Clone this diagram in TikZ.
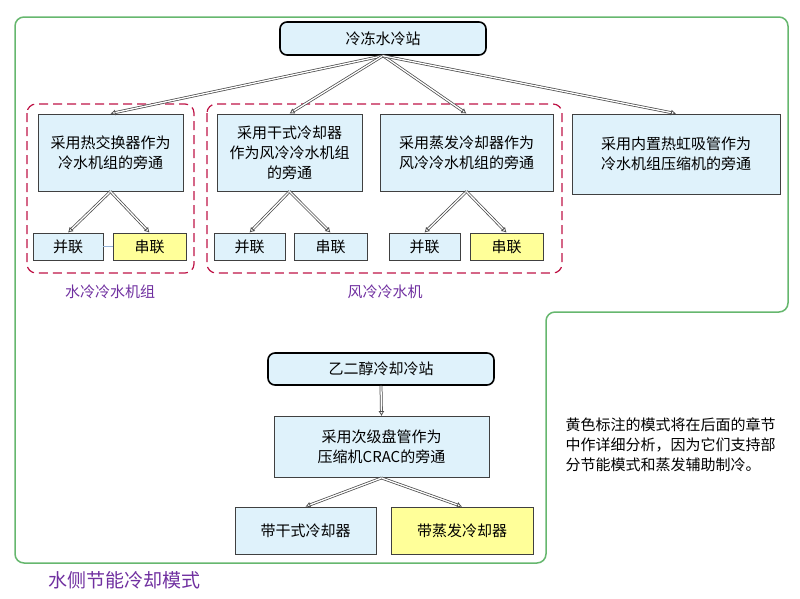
\documentclass[tikz,border=0pt]{standalone}
\usepackage{fontspec}
\setmainfont{Noto Sans CJK SC}
\usetikzlibrary{arrows.meta}

\definecolor{cajaazul}{RGB}{223,242,251}
\definecolor{cajaamarilla}{RGB}{255,255,153}
\definecolor{verdemarco}{RGB}{102,183,110}
\definecolor{rojogrupo}{RGB}{190,20,70}
\definecolor{morado}{RGB}{112,48,160}
\definecolor{bordecaja}{RGB}{64,64,64}
\definecolor{enlace}{RGB}{150,180,215}

\tikzset{
  estacion/.style={draw=black, line width=1.6pt, rounded corners=7pt, fill=cajaazul, inner sep=0pt},
  caja/.style={draw=bordecaja, line width=0.9pt, fill=cajaazul, align=center, inner sep=0pt},
  amarilla/.style={caja, fill=cajaamarilla},
  flecha/.style={draw=gray!60!black, line width=0.75pt, double=white, double distance=1.3pt,
    -{Latex[open,length=5pt,width=6pt]}},
  grupo/.style={draw=rojogrupo, line width=1.2pt, dash pattern=on 9pt off 5pt, rounded corners=9pt},
  etiqueta/.style={text=morado}
}

\begin{document}
\begin{tikzpicture}[x=1pt, y=-1pt, font=\fontsize{15}{20}\selectfont]
    \useasboundingbox (0,0) rectangle (800,598);

    % Marco verde
    \draw[verdemarco, line width=1.5pt, rounded corners=9pt]
        (15,17) -- (788,17) -- (788,312) -- (546,312) -- (546,563) -- (15,563) -- cycle;

    % Grupos discontinuos
    \draw[grupo] (27,104) rectangle (194,273);
    \draw[grupo] (207,104) rectangle (562,273);
    \node[etiqueta] (gagua) at (110,292) {水冷冷水机组};
    \node[etiqueta] (gaire) at (385,292) {风冷冷水机};

    % Estacion de agua helada
    \node[estacion, minimum width=206pt, minimum height=33pt] (estacion) at (383,38.5) {冷冻水冷站};

    % Modos de derivacion
    \node[caja, minimum width=145pt, minimum height=77pt] (intercambio) at (110.5,152.5) {采用热交换器作为\\冷水机组的旁通};
    \node[caja, minimum width=145pt, minimum height=77pt] (seco) at (289.5,152.5) {采用干式冷却器\\作为风冷冷水机组\\的旁通};
    \node[caja, minimum width=173pt, minimum height=77pt] (evapora) at (466.5,152.5) {采用蒸发冷却器作为\\风冷冷水机组的旁通};
    \node[caja, minimum width=208pt, minimum height=80pt] (sifon) at (676,154) {采用内置热虹吸管作为\\冷水机组压缩机的旁通};

    % Conexiones en paralelo y en serie
    \node[caja, minimum width=70pt, minimum height=27pt] (par1) at (68,246.5) {并联};
    \node[amarilla, minimum width=73pt, minimum height=27pt] (ser1) at (149.5,246.5) {串联};
    \node[caja, minimum width=71pt, minimum height=27pt] (par2) at (249.5,246.5) {并联};
    \node[caja, minimum width=73pt, minimum height=27pt] (ser2) at (330.5,246.5) {串联};
    \node[caja, minimum width=71pt, minimum height=27pt] (par3) at (424.5,246.5) {并联};
    \node[amarilla, minimum width=73pt, minimum height=27pt] (ser3) at (506.5,246.5) {串联};
    \draw[enlace, line width=1.5pt] (par1) -- (ser1);

    % Flechas del primer arbol
    \draw[flecha] (estacion.south) -- (intercambio.north);
    \draw[flecha] (estacion.south) -- (seco.north);
    \draw[flecha] (estacion.south) -- (evapora.north);
    \draw[flecha] (estacion.south) -- (sifon.north);
    \draw[flecha] (intercambio.south) -- (par1.north);
    \draw[flecha] (intercambio.south) -- (ser1.north);
    \draw[flecha] (seco.south) -- (par2.north);
    \draw[flecha] (seco.south) -- (ser2.north);
    \draw[flecha] (evapora.south) -- (par3.north);
    \draw[flecha] (evapora.south) -- (ser3.north);

    % Estacion de glicol
    \node[estacion, minimum width=226pt, minimum height=32pt] (glicol) at (381,369) {乙二醇冷却冷站};
    \node[caja, minimum width=215pt, minimum height=61pt] (bobina) at (381.5,447) {采用次级盘管作为\\压缩机CRAC的旁通};
    \node[caja, minimum width=141pt, minimum height=47pt] (conseco) at (305.5,530.5) {带干式冷却器};
    \node[amarilla, minimum width=142pt, minimum height=47pt] (conevapora) at (462,530.5) {带蒸发冷却器};

    \draw[flecha] (glicol.south) -- (bobina.north);
    \draw[flecha] (bobina.south) -- (conseco.north);
    \draw[flecha] (bobina.south) -- (conevapora.north);

    % Nota y titulo
    \node[anchor=west, align=left] (nota) at (562,445) {黄色标注的模式将在后面的章节\\中作详细分析，因为它们支持部\\分节能模式和蒸发辅助制冷。};
    \node[etiqueta, font=\fontsize{19}{23}\selectfont] (titulo) at (124,580) {水侧节能冷却模式};

\end{tikzpicture}
\end{document}
